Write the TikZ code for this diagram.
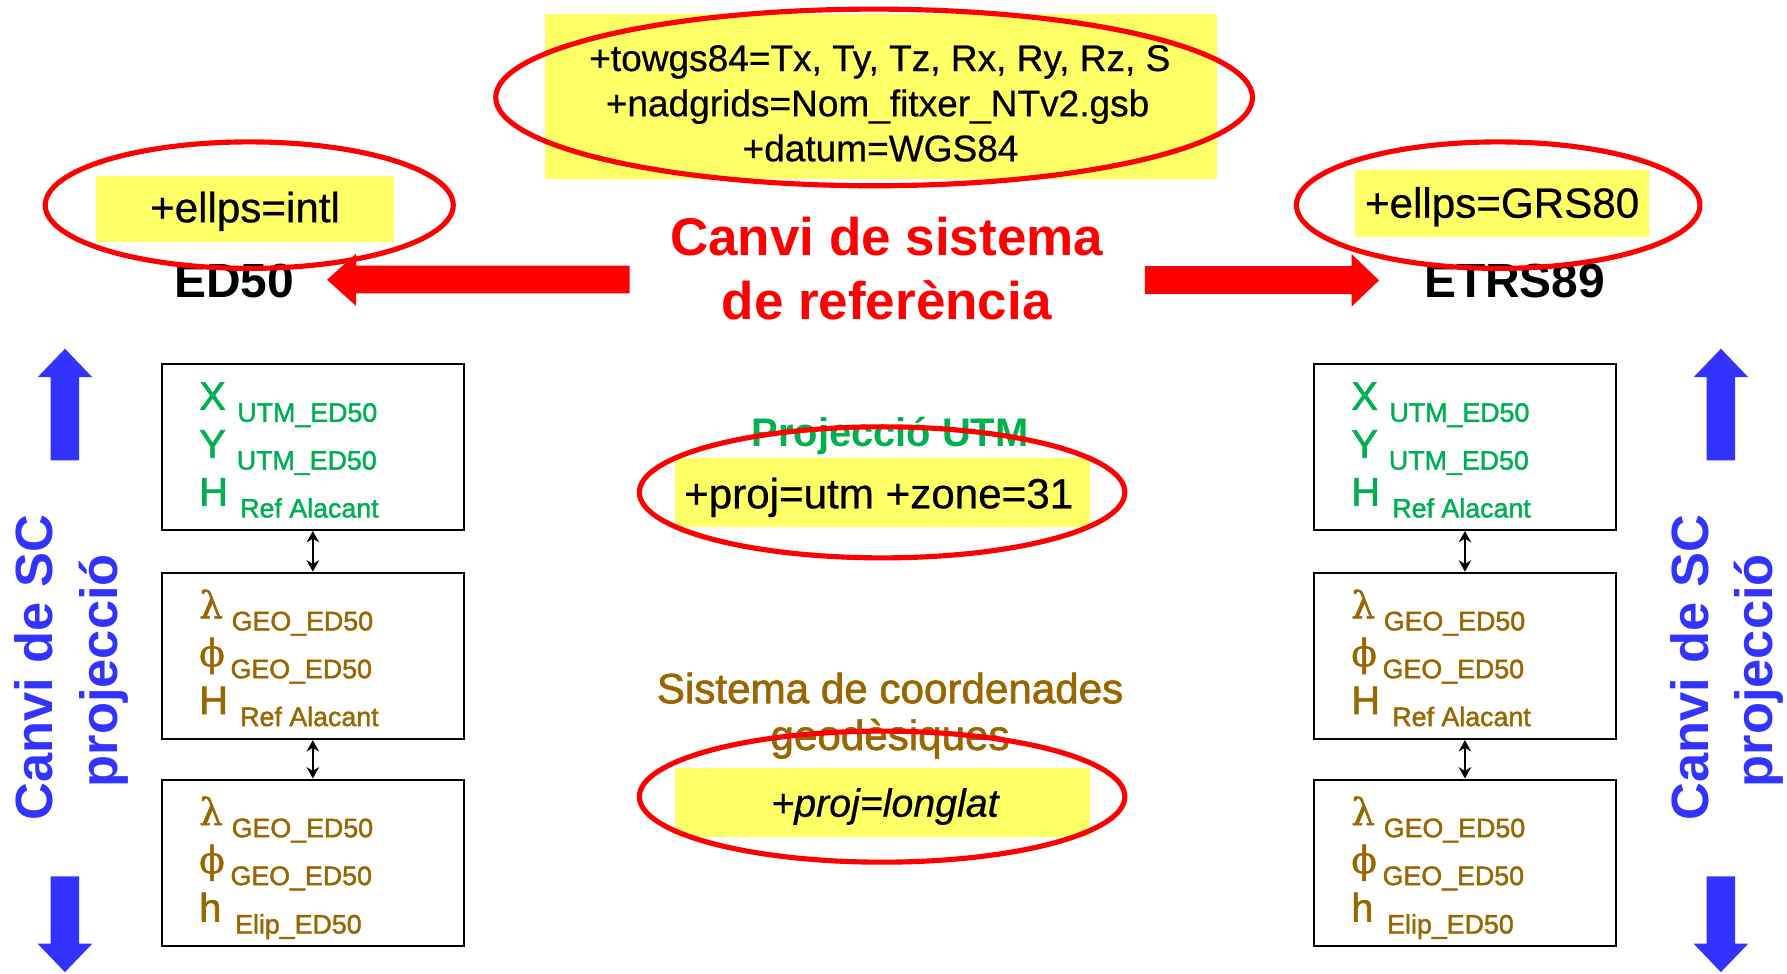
\documentclass[tikz,border=0pt]{standalone}
\usepackage{fontspec}
\setmainfont{Liberation Sans}[UprightFeatures={FakeBold=0.6},ItalicFeatures={FakeBold=0.6}]
\newfontfamily\boxf{Liberation Sans}[FakeBold=1.6]
\newfontfamily\greekf{DejaVu Serif}[FakeBold=1.2]
\usetikzlibrary{calc,arrows.meta}
\definecolor{hiyel}{HTML}{FFFF66}
\definecolor{ovred}{HTML}{FF0000}
\definecolor{utmgreen}{HTML}{00B050}
\definecolor{geobrown}{HTML}{996600}
\definecolor{scblue}{HTML}{3333FF}
\newcommand{\fs}[1]{\fontsize{#1}{#1}\selectfont}
\newcommand{\lam}{{\greekf\fs{33}λ}}
\newcommand{\fii}{{\greekf\fs{33}ϕ}}
\newcommand{\crow}[6]{%
  \node[mainl] (#1#2m) at ($(#1.north west)+(33.5,#3)$) {#4};
  \node[subl] (#1#2s) at ($(#1.north west)+(#5,#3+10.5)$) {#6};}
\begin{document}
\begin{tikzpicture}[x=1pt,y=-1pt,
  txt/.style={inner sep=0pt, anchor=base, align=center},
  oval/.style={draw=ovred, line width=4.5pt},
  cbox/.style={draw=black, line width=1.8pt, minimum width=265pt, minimum height=146pt, inner sep=0pt},
  mainl/.style={inner sep=0pt, anchor=base west, font=\boxf\fs{35}},
  subl/.style={inner sep=0pt, anchor=base west, font=\boxf\fs{23.5}},
  dbl/.style={{Stealth[length=10pt,width=11pt]}-{Stealth[length=10pt,width=11pt]}, line width=1.5pt},
  vtxt/.style={inner sep=0pt, anchor=base, rotate=90, text=scblue, font=\bfseries\fs{46}}]
\path[use as bounding box] (0,0) rectangle (1568,854);

% yellow highlights
\fill[hiyel] (478,12) rectangle (1068,157);
\fill[hiyel] (84,154) rectangle (346,212);
\fill[hiyel] (1189,149.5) rectangle (1447,208);
\fill[hiyel] (592,402) rectangle (956,462);
\fill[hiyel] (592,674) rectangle (956,734);

% texts
\node[txt, font=\fs{32.5}] (tw) at (772,62.3) {+towgs84=Tx, Ty, Tz, Rx, Ry, Rz, S};
\node[txt, font=\fs{32.5}] (nad) at (770,102) {+nadgrids=Nom\_fitxer\_NTv2.gsb};
\node[txt, font=\fs{32.5}] (dat) at (772.6,141.5) {+datum=WGS84};
\node[txt, font=\fs{37}] (el) at (215,195) {+ellps=intl};
\node[txt, font=\fs{37}] (er) at (1318,191) {+ellps=GRS80};
\node[txt, font=\bfseries\fs{42}] (ed) at (205.5,261) {ED50};
\node[txt, font=\bfseries\fs{42}] (et) at (1329,261) {ETRS89};
\node[txt, text=ovred, font=\bfseries\fs{46.5}] (cs1) at (778,224) {Canvi de sistema};
\node[txt, text=ovred, font=\bfseries\fs{46.5}] (cs2) at (778,280) {de referència};
\node[txt, text=utmgreen, font=\bfseries\fs{35}] (pu) at (781,392) {Projecció UTM};
\node[txt, font=\fs{37}] (pz) at (771,446) {+proj=utm +zone=31};
\node[txt, text=geobrown, font=\boxf\fs{37}] (sc1) at (781,617) {Sistema de coordenades};
\node[txt, text=geobrown, font=\boxf\fs{37}] (sc2) at (781,658) {geodèsiques};
\node[txt, font=\itshape\fs{34.5}] (ll) at (776.5,716.6) {+proj=longlat};

% red ovals
\draw[oval] (767,85.5) ellipse [x radius=332pt, y radius=77.5pt];
\draw[oval] (218.7,180) ellipse [x radius=179pt, y radius=55.5pt];
\draw[oval] (1314.6,180) ellipse [x radius=177pt, y radius=55.5pt];
\draw[oval] (774,432) ellipse [x radius=213pt, y radius=57.5pt];
\draw[oval] (774,699) ellipse [x radius=213pt, y radius=57.5pt];

% red block arrows
\fill[ovred] (552.5,233) -- (312.5,233) -- (312.5,222.5) -- (287,245.5) -- (312.5,268.5) -- (312.5,257.5) -- (552.5,257.5) -- cycle;
\fill[ovred] (1004.5,233.5) -- (1186,233.5) -- (1186,223) -- (1210,246) -- (1186,269) -- (1186,258) -- (1004.5,258) -- cycle;

% blue block arrows
\fill[scblue] (57,306) -- (81,331) -- (69.5,331) -- (69.5,404) -- (44.5,404) -- (44.5,331) -- (33,331) -- cycle;
\fill[scblue] (57,853) -- (81,828) -- (69.5,828) -- (69.5,769) -- (44.5,769) -- (44.5,828) -- (33,828) -- cycle;
\fill[scblue] (1510,306) -- (1534,331) -- (1522.5,331) -- (1522.5,404) -- (1497.5,404) -- (1497.5,331) -- (1486,331) -- cycle;
\fill[scblue] (1510,853) -- (1534,828) -- (1522.5,828) -- (1522.5,769) -- (1497.5,769) -- (1497.5,828) -- (1486,828) -- cycle;

% vertical labels
\node[vtxt] (lc1) at (46,586) {Canvi de SC};
\node[vtxt] (lc2) at (103,588.5) {projecció};
\node[vtxt] (rc1) at (1499,586) {Canvi de SC};
\node[vtxt] (rc2) at (1555,588.5) {projecció};

% coordinate boxes
\node[cbox] (lb1) at (274.5,392) {};
\node[cbox] (lb2) at (274.5,575.5) {};
\node[cbox] (lb3) at (274.5,757) {};
\node[cbox] (rb1) at (1285.4,392) {};
\node[cbox] (rb2) at (1285.4,575.5) {};
\node[cbox] (rb3) at (1285.4,757) {};
\draw[dbl] (lb1.south) -- (lb2.north);
\draw[dbl] (lb2.south) -- (lb3.north);
\draw[dbl] (rb1.south) -- (rb2.north);
\draw[dbl] (rb2.south) -- (rb3.north);

\begin{scope}[every node/.append style={text=utmgreen}]
  \crow{lb1}{a}{41.5}{X}{67}{UTM\_ED50}
  \crow{lb1}{b}{83.5}{Y}{66.5}{UTM\_ED50}
  \crow{lb1}{c}{125.5}{H}{69.5}{Ref Alacant}
  \crow{rb1}{a}{41.5}{X}{67}{UTM\_ED50}
  \crow{rb1}{b}{83.5}{Y}{66.5}{UTM\_ED50}
  \crow{rb1}{c}{125.5}{H}{69.5}{Ref Alacant}
\end{scope}
\begin{scope}[every node/.append style={text=geobrown}]
  \crow{lb2}{a}{41}{\lam}{62}{GEO\_ED50}
  \crow{lb2}{b}{83}{\fii}{61}{GEO\_ED50}
  \crow{lb2}{c}{125}{H}{69.5}{Ref Alacant}
  \crow{lb3}{a}{41}{\lam}{62}{GEO\_ED50}
  \crow{lb3}{b}{83}{\fii}{61}{GEO\_ED50}
  \crow{lb3}{c}{125.5}{h}{65}{Elip\_ED50}
  \crow{rb2}{a}{41}{\lam}{62}{GEO\_ED50}
  \crow{rb2}{b}{83}{\fii}{61}{GEO\_ED50}
  \crow{rb2}{c}{125}{H}{69.5}{Ref Alacant}
  \crow{rb3}{a}{41}{\lam}{62}{GEO\_ED50}
  \crow{rb3}{b}{83}{\fii}{61}{GEO\_ED50}
  \crow{rb3}{c}{125.5}{h}{65}{Elip\_ED50}
\end{scope}
\end{tikzpicture}
\end{document}
